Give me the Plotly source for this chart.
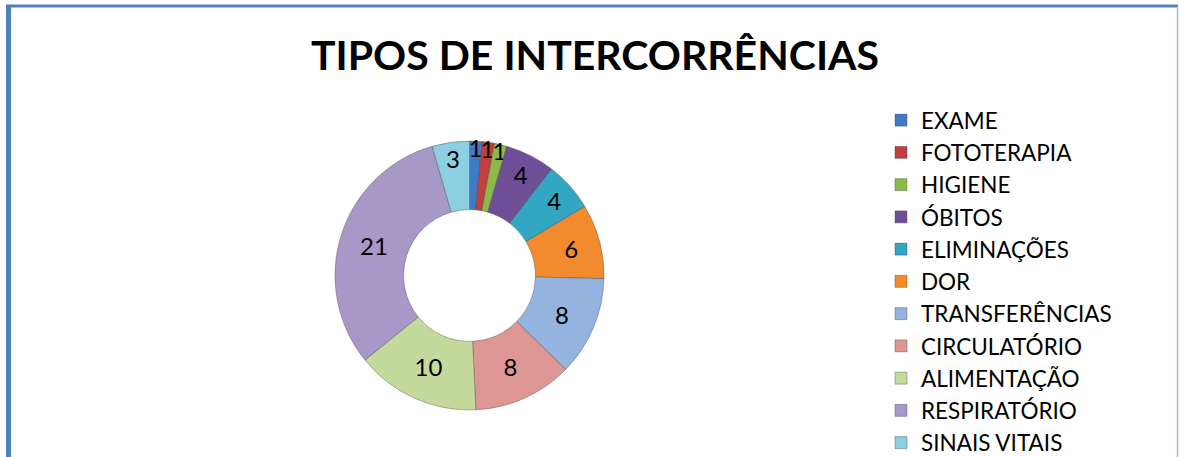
import plotly.graph_objects as go

categories = ["EXAME", "FOTOTERAPIA", "HIGIENE", "ÓBITOS", "ELIMINAÇÕES", "DOR",
              "TRANSFERÊNCIAS", "CIRCULATÓRIO", "ALIMENTAÇÃO", "RESPIRATÓRIO", "SINAIS VITAIS"]
values = [1, 1, 1, 4, 4, 6, 8, 8, 10, 21, 3]
colors = ["#3E7AC6", "#C0403D", "#8DB84A", "#6F4E98", "#32A6C2", "#F28A2E",
          "#95B3DF", "#DE9694", "#C4DA9C", "#A898C8", "#8CCFE0"]
title_text = "TIPOS DE INTERCORRÊNCIAS"

W, H = 1179, 457

fig = go.Figure(go.Pie(
    labels=categories,
    values=values,
    sort=False,
    direction="clockwise",
    rotation=0,
    hole=0.49,
    marker=dict(colors=colors, line=dict(color="rgba(60,60,60,0.45)", width=0.8)),
    textinfo="value",
    textposition="inside",
    insidetextorientation="horizontal",
    textfont=dict(family="Lato", size=24, color="black"),
    domain=dict(x=[335 / W, 604 / W], y=[1 - 410 / H, 1 - 141 / H]),
))

fig.update_layout(
    width=W, height=H,
    margin=dict(l=0, r=0, t=0, b=0, autoexpand=False),
    paper_bgcolor="white",
    uniformtext=dict(minsize=24, mode="show"),
    title=dict(text=title_text, x=595 / W, xanchor="center", y=1 - 55.5 / H, yanchor="middle",
               font=dict(family="Lato", size=41, color="black", weight="bold")),
    legend=dict(x=881 / W, xanchor="left", y=1 - 99 / H, yanchor="top",
                font=dict(family="Lato", size=22.5, color="black"),
                bgcolor="rgba(0,0,0,0)", borderwidth=0),
    shapes=[
        dict(type="line", xref="paper", yref="paper", x0=8.5 / W, x1=8.5 / W, y0=-0.05, y1=1 - 5 / H,
             line=dict(color="#4F81BD", width=5)),
        dict(type="line", xref="paper", yref="paper", x0=6 / W, x1=1178 / W, y0=1 - 6 / H, y1=1 - 6 / H,
             line=dict(color="#4F81BD", width=3)),
        dict(type="line", xref="paper", yref="paper", x0=1177.5 / W, x1=1177.5 / W, y0=-0.05, y1=1 - 6 / H,
             line=dict(color="#9DB9DD", width=1.5)),
    ],
)

fig.write_html("out.html", config={"displayModeBar": False},
               post_script="document.body.style.margin='0px';")
